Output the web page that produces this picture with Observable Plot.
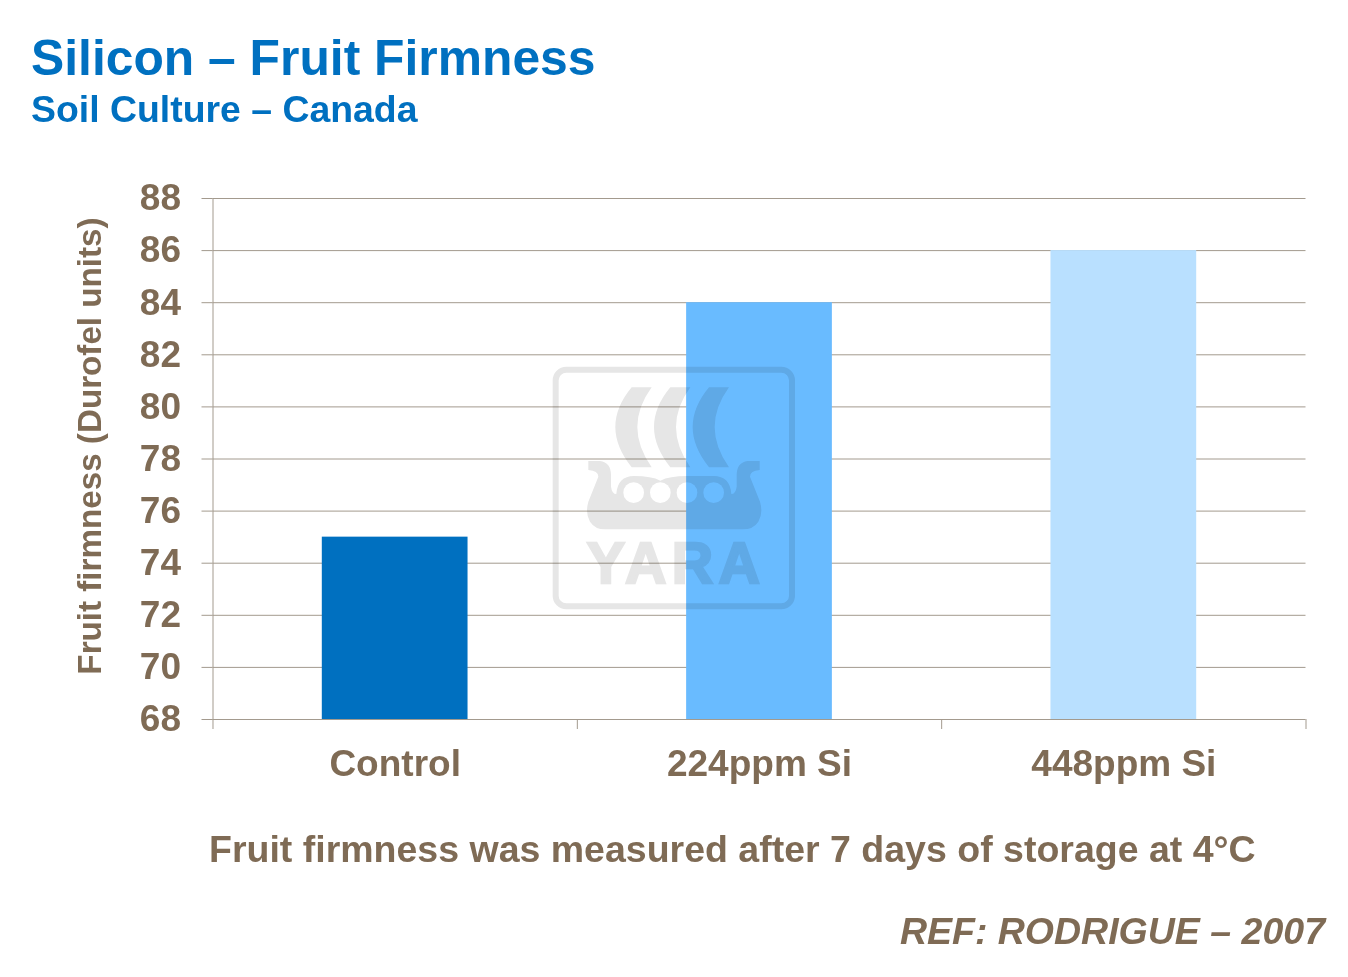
<!DOCTYPE html>
<html><head><meta charset="utf-8">
<script src="https://cdn.jsdelivr.net/npm/d3@7"></script>
<script src="https://cdn.jsdelivr.net/npm/@observablehq/plot@0.6"></script>
<style>
html,body{margin:0;padding:0;background:#fff;}
body{width:1348px;height:977px;overflow:hidden;position:relative;font-family:"Liberation Sans",Arial,sans-serif;font-weight:bold;}
.t{position:absolute;white-space:nowrap;line-height:1;}
#title{left:31px;top:34px;font-size:49.8px;color:#0070c0;}
#sub{left:31px;top:91px;font-size:37.4px;color:#0070c0;}
#note{left:209px;top:831px;font-size:37.5px;color:#7f6b55;}
#ref{right:23px;top:913px;font-size:37.5px;font-style:italic;color:#7f6b55;}
#ylab{left:90px;top:445.5px;font-size:33.2px;color:#7f6b55;transform:translate(-50%,-50%) rotate(-90deg);}
#plot{position:absolute;left:0;top:160px;}
#plot svg{display:block;}
#mark{position:absolute;left:540px;top:350px;width:270px;height:270px;mix-blend-mode:multiply;pointer-events:none;}
</style></head>
<body>
<div class="t" id="title">Silicon – Fruit Firmness</div>
<div class="t" id="sub">Soil Culture – Canada</div>
<div id="plot"></div>
<div class="t" id="ylab">Fruit firmness (Durofel units)</div>
<svg id="mark" viewBox="0 0 810 810">
  <g fill="#e6e6e6">
    <rect x="47" y="59" width="709" height="710" rx="32" fill="none" stroke="#e6e6e6" stroke-width="18"/>
    <path d="M275 112H335Q249 230 335 352H275Q177 230 275 112Z"/>
    <path d="M391 112H451Q365 230 451 352H391Q293 230 391 112Z"/>
    <path d="M507 112H567Q481 230 567 352H507Q409 230 507 112Z"/>
    <path d="M145 333H180Q213 338 213 375V410Q216 432 229 432Q233 378 282 378Q335 378 361 392Q388 378 441 378Q490 378 521 378Q570 378 574 432Q587 432 590 410V375Q590 338 623 333H659V360Q630 362 630 380L660 455Q670 490 655 515Q640 538 608 538H195Q165 538 150 515Q135 490 145 455L175 380Q175 362 145 360Z"/>
    <text x="400" y="698" text-anchor="middle" font-family="Liberation Sans" font-weight="bold" font-size="172" stroke="#e6e6e6" stroke-width="7" textLength="520" lengthAdjust="spacing">YARA</text>
  </g>
  <g fill="#fff">
    <circle cx="281" cy="428" r="31"/><circle cx="361" cy="428" r="31"/>
    <circle cx="441" cy="428" r="31"/><circle cx="521" cy="428" r="31"/>
  </g>
</svg>
<div class="t" id="note">Fruit firmness was measured after 7 days of storage at 4°C</div>
<div class="t" id="ref">REF: RODRIGUE – 2007</div>
<script>
const categories = ["Control", "224ppm Si", "448ppm Si"];
const firmness = [75, 84, 86];
const barColors = ["#0070c0", "#69bbff", "#b9e0ff"];
const yTicks = [68, 70, 72, 74, 76, 78, 80, 82, 84, 86, 88];
const yBase = 68;
const rows = categories.map((c, i) => ({category: c, value: firmness[i], color: barColors[i]}));
const lineColor = "#a39a8e";
const ink = "#7f6b55";
const step = (1305.5 - 212.5) / categories.length;

const chart = Plot.plot({
  width: 1348,
  height: 640,
  marginTop: 38,
  marginBottom: 81,
  marginLeft: 212.5,
  marginRight: 42.5,
  style: {fontFamily: "'Liberation Sans', Arial, sans-serif", fontWeight: "bold", background: "transparent"},
  x: {domain: categories, paddingInner: 0.6, paddingOuter: 0.3, round: false, label: null},
  y: {domain: [68, 88], label: null},
  marks: [
    Plot.ruleY(yTicks, {stroke: lineColor, strokeWidth: 1, strokeOpacity: 1}),
    Plot.barY(rows, {x: "category", y1: () => yBase, y2: "value", fill: "color"}),
    Plot.axisY({ticks: yTicks, tickSize: 11, tickPadding: 21, fontSize: 37, stroke: lineColor, fill: ink, strokeOpacity: 1, tickFormat: d => String(d), label: null}),
    Plot.frame({anchor: "left", stroke: lineColor}),
    Plot.axisX({ticks: categories, tickSize: 10, text: null, stroke: lineColor, strokeOpacity: 1, dx: -step / 2, label: null}),
    Plot.axisX({ticks: categories.slice(-1), tickSize: 10, text: null, stroke: lineColor, strokeOpacity: 1, dx: step / 2, label: null}),
    Plot.axisX({ticks: categories, tickSize: 0, tickPadding: 30, fontSize: 37, fill: ink, label: null})
  ]
});
document.getElementById("plot").appendChild(chart);
</script>
</body></html>
